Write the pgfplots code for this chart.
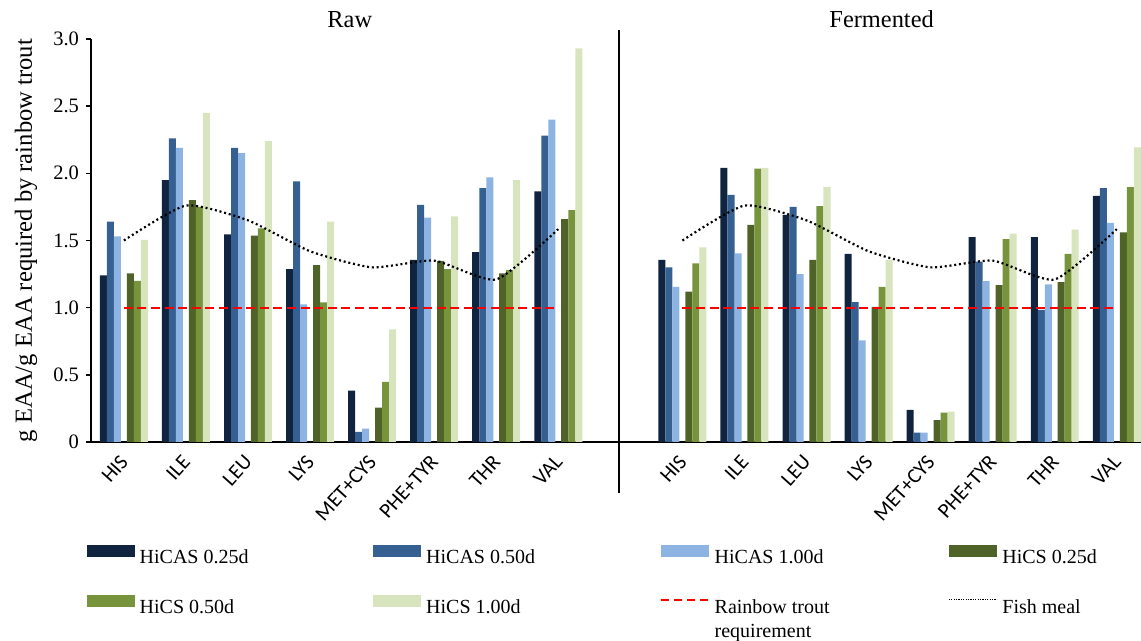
\documentclass[border=0pt]{standalone}
\usepackage{fontspec}
\setmainfont{Liberation Serif}
\newfontfamily\calibri{Carlito}
\usepackage{pgfplots}
\pgfplotsset{compat=1.18}
\definecolor{cA}{HTML}{11243F}
\definecolor{cB}{HTML}{376092}
\definecolor{cC}{HTML}{8DB3E2}
\definecolor{cD}{HTML}{4F6228}
\definecolor{cE}{HTML}{77933C}
\definecolor{cF}{HTML}{D7E4BD}
\newcommand{\lt}[1]{\makebox[119.25pt][l]{\hspace{2.5pt}#1}}
\pgfplotsset{
  barleg/.style={legend image code/.code={\fill[##1] (0pt,0pt) rectangle (24pt,5.75pt);}},
  mybar/.style={ybar, bar width=0.113, draw=none, barleg},
}
\begin{document}
\begin{tikzpicture}
\useasboundingbox (-45.5pt,-99.5pt) rectangle (525pt,221pt);
\begin{axis}[
  scale only axis, width=525pt, height=201.5pt,
  xmin=-0.53, xmax=16.39, ymin=0, ymax=3,
  clip=false,
  axis x line=bottom, axis y line=left,
  axis line style={-, line width=0.9pt, black},
  xtick={0,1,2,3,4,5,6,7,9,10,11,12,13,14,15,16},
  xticklabels={HIS,ILE,LEU,LYS,MET+CYS,PHE+TYR,THR,VAL,HIS,ILE,LEU,LYS,MET+CYS,PHE+TYR,THR,VAL},
  xtick style={draw=none},
  xticklabel style={font=\calibri\fontsize{10.5}{12}\selectfont, anchor=north east, inner sep=1pt, xshift=-2.5pt, yshift=-3pt, rotate=48},
  ytick={0,0.5,1,1.5,2,2.5,3},
  yticklabels={0,0.5,1.0,1.5,2.0,2.5,3.0},
  ytick align=outside, major tick length=2.5pt,
  ytick style={line width=0.8pt, black},
  yticklabel style={font=\fontsize{10.25}{12}\selectfont},
  ylabel={g EAA/g EAA required by rainbow trout},
  ylabel style={at={(axis description cs:-0.0562,0.5)}, anchor=base, font=\fontsize{12.3}{14}\selectfont},
  legend columns=4,
  legend cell align=left,
  legend style={draw=none, fill=none, at={(axis description cs:-0.0041,-0.2563)}, anchor=north west,
    inner sep=0pt, outer sep=0pt, row sep=15.8pt, column sep=0pt,
    font=\fontsize{10}{12}\selectfont,
    nodes={inner sep=0pt, text height=7pt, text depth=0pt}},
]
% Raw (0..7) and Fermented (9..16)
\addplot[mybar, bar shift=-0.33, fill=cA] coordinates {(0,1.24) (1,1.95) (2,1.545) (3,1.286) (4,0.383) (5,1.356) (6,1.413) (7,1.866)};
\addlegendentry{\lt{HiCAS 0.25d}}
\addplot[mybar, bar shift=-0.33, fill=cA, forget plot] coordinates {(9,1.356) (10,2.04) (11,1.69) (12,1.40) (13,0.239) (14,1.525) (15,1.525) (16,1.833)};
\addplot[mybar, bar shift=-0.217, fill=cB] coordinates {(0,1.64) (1,2.26) (2,2.19) (3,1.94) (4,0.075) (5,1.766) (6,1.89) (7,2.28)};
\addlegendentry{\lt{HiCAS 0.50d}}
\addplot[mybar, bar shift=-0.217, fill=cB, forget plot] coordinates {(9,1.30) (10,1.84) (11,1.75) (12,1.042) (13,0.07) (14,1.343) (15,0.983) (16,1.89)};
\addplot[mybar, bar shift=-0.104, fill=cC] coordinates {(0,1.53) (1,2.19) (2,2.15) (3,1.025) (4,0.10) (5,1.67) (6,1.97) (7,2.40)};
\addlegendentry{\lt{HiCAS 1.00d}}
\addplot[mybar, bar shift=-0.104, fill=cC, forget plot] coordinates {(9,1.154) (10,1.405) (11,1.25) (12,0.756) (13,0.07) (14,1.197) (15,1.174) (16,1.632)};
\addplot[mybar, bar shift=0.104, fill=cD] coordinates {(0,1.256) (1,1.80) (2,1.537) (3,1.316) (4,0.256) (5,1.348) (6,1.256) (7,1.66)};
\addlegendentry{\lt{HiCS 0.25d}}
\addplot[mybar, bar shift=0.104, fill=cD, forget plot] coordinates {(9,1.12) (10,1.617) (11,1.356) (12,1.005) (13,0.162) (14,1.167) (15,1.19) (16,1.56)};
\addplot[mybar, bar shift=0.217, fill=cE] coordinates {(0,1.20) (1,1.75) (2,1.59) (3,1.04) (4,0.448) (5,1.286) (6,1.28) (7,1.726)};
\addlegendentry{\lt{HiCS 0.50d}}
\addplot[mybar, bar shift=0.217, fill=cE, forget plot] coordinates {(9,1.33) (10,2.035) (11,1.756) (12,1.154) (13,0.219) (14,1.51) (15,1.40) (16,1.898)};
\addplot[mybar, bar shift=0.33, fill=cF] coordinates {(0,1.505) (1,2.45) (2,2.24) (3,1.64) (4,0.838) (5,1.68) (6,1.95) (7,2.93)};
\addlegendentry{\lt{HiCS 1.00d}}
\addplot[mybar, bar shift=0.33, fill=cF, forget plot] coordinates {(9,1.448) (10,2.04) (11,1.90) (12,1.356) (13,0.226) (14,1.552) (15,1.58) (16,2.194)};
% requirement
\addplot[red, line width=1pt, dash pattern=on 4.5pt off 2.3pt,
  legend image code/.code={\draw[red, line width=1pt, dash pattern=on 4pt off 2.5pt] (0pt,3.5pt) -- (24pt,3.5pt);}]
  coordinates {(0,1) (7,1)};
\addlegendentry{\parbox[t]{119.25pt}{\hspace*{2.5pt}Rainbow trout\\\hspace*{2.5pt}requirement}}
\addplot[red, line width=1pt, dash pattern=on 4.5pt off 2.3pt, forget plot] coordinates {(9,1) (16,1)};
% fish meal
\addplot[black, smooth, tension=0.35, line width=1.1pt, dash pattern=on 1pt off 1.4pt,
  legend image code/.code={\draw[black, line width=0.6pt, dash pattern=on 0.6pt off 0.6pt] (0pt,3.5pt) -- (24pt,3.5pt);}]
  coordinates {(0,1.50) (1,1.76) (2,1.65) (3,1.42) (4,1.30) (5,1.35) (6,1.21) (7,1.585)};
\addlegendentry{\lt{Fish meal}}
\addplot[black, smooth, tension=0.35, line width=1.1pt, dash pattern=on 1pt off 1.4pt, forget plot]
  coordinates {(9,1.50) (10,1.76) (11,1.65) (12,1.42) (13,1.30) (14,1.35) (15,1.21) (16,1.585)};
% panel titles and separator
\node[font=\fontsize{12.2}{14}\selectfont, anchor=base] at (axis cs:3.64,3.089) {Raw};
\node[font=\fontsize{12.2}{14}\selectfont, anchor=base] at (axis cs:12.21,3.089) {Fermented};
\draw[line width=0.75pt] (axis cs:7.98,3.067) -- (axis cs:7.98,-0.38);
\end{axis}
\end{tikzpicture}
\end{document}
